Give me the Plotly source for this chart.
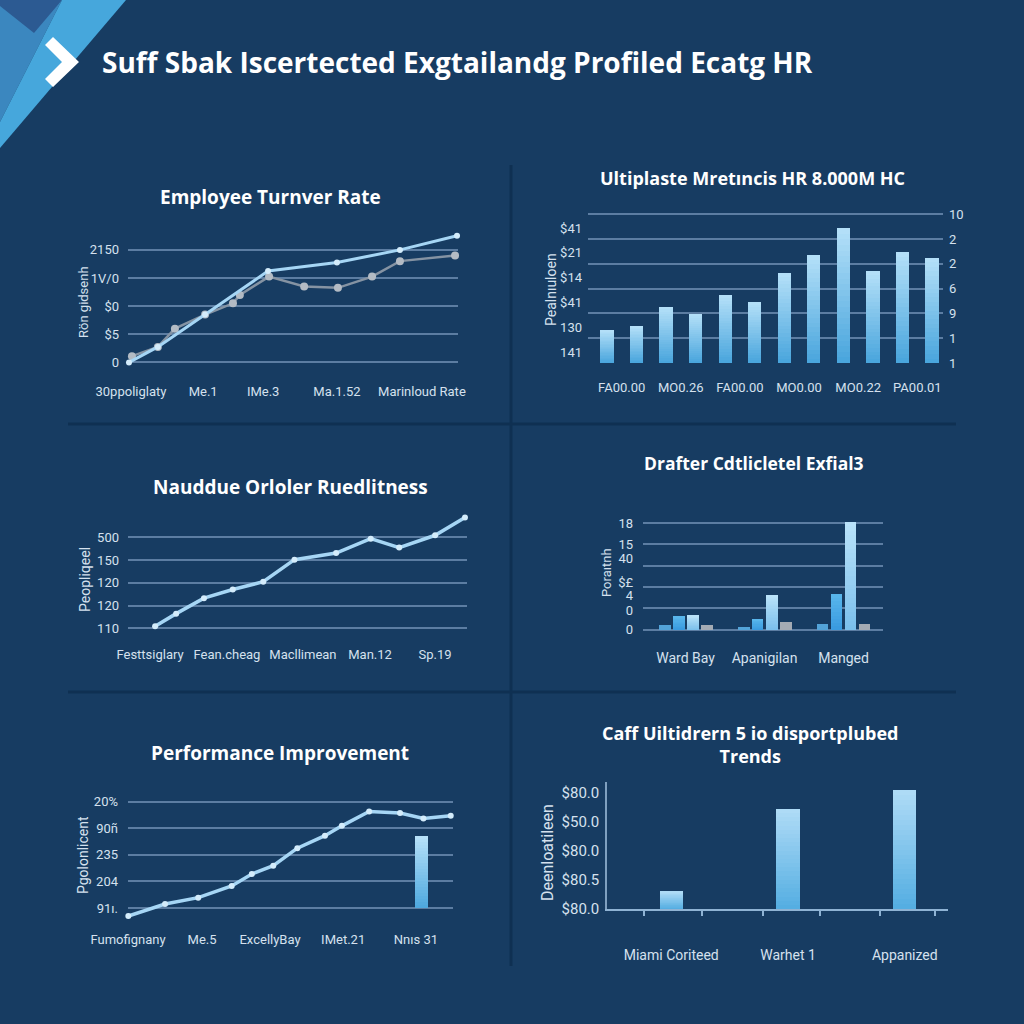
import plotly.graph_objects as go

# ---------------- data ----------------
MAIN_TITLE = "Suff Sbak Iscertected Exgtailandg Profiled Ecatg HR"

# Panel 1 - Employee Turnver Rate (two lines)
p1_title = "Employee Turnver Rate"
p1_ytitle = "Rön gidsenh"
p1_xtick_pos = [0.06, 2.26, 4.09, 6.34, 8.93]
p1_xtick_txt = ["30ppoliglaty", "Me.1", "IMe.3", "Ma.1.52", "Marinloud Rate"]
p1_ytick_txt = ["0", "$5", "$0", "1V/0", "2150"]
p1_blue_x = [0.0, 0.88, 2.32, 4.24, 6.34, 8.26, 10.0]
p1_blue_y = [0.0, 0.55, 1.7, 3.25, 3.55, 4.0, 4.5]
p1_gray_x = [0.09, 0.88, 1.4, 2.32, 3.17, 3.38, 4.27, 5.34, 6.37, 7.41, 8.26, 9.94]
p1_gray_y = [0.22, 0.55, 1.2, 1.7, 2.1, 2.4, 3.05, 2.7, 2.65, 3.05, 3.6, 3.8]

# Panel 2 - bars
p2_title = "Ultiplaste Mretıncis HR 8.000M HC"
p2_ytitle = "Pealnıuloen"
p2_values = [1.33, 1.49, 2.26, 1.98, 2.74, 2.46, 3.63, 4.35, 5.44, 3.71, 4.48, 4.23]
p2_xtick_txt = ["FA00.00", "MO0.26", "FA00.00", "MO0.00", "MO0.22", "PA00.01"]
p2_right_txt = ["1", "1", "9", "6", "2", "2", "10"]
p2_left_pos = [0.44, 1.45, 2.46, 3.47, 4.44, 5.44]
p2_left_txt = ["141", "130", "$41", "$14", "$21", "$41"]

# Panel 3 - line
p3_title = "Nauddue Orloler Ruedlitness"
p3_ytitle = "Peopliqeel"
p3_x = [0.8, 1.42, 2.24, 3.09, 3.99, 4.91, 6.14, 7.16, 8.0, 9.06, 9.94]
p3_y = [0.1, 0.65, 1.33, 1.71, 2.05, 3.02, 3.31, 3.94, 3.55, 4.09, 4.87]
p3_xtick_pos = [0.65, 2.92, 5.16, 7.14, 9.06]
p3_xtick_txt = ["Festtsiglary", "Fean.cheag", "Macllimean", "Man.12", "Sp.19"]
p3_ytick_txt = ["110", "120", "120", "150", "500"]

# Panel 4 - grouped bars
p4_title = "Drafter Cdtlicletel Exfial3"
p4_ytitle = "Poraıtnh"
p4_categories = ["Ward Bay", "Apanigilan", "Manged"]
p4_s1 = [0.23, 0.14, 0.28]
p4_s2 = [0.65, 0.51, 1.68]
p4_s3 = [0.65, 1.64, 5.05]
p4_s4 = [0.23, 0.37, 0.28]
p4_ytick_pos = [0.0, 0.89, 1.59, 2.24, 3.36, 4.0, 5.0]
p4_ytick_txt = ["0", "0", "4", "$£", "40", "15", "18"]

# Panel 5 - line + single bar
p5_title = "Performance Improvement"
p5_ytitle = "Pgolonlicent"
p5_x = [0.01, 1.14, 2.16, 3.19, 3.81, 4.47, 5.21, 6.06, 6.58, 7.42, 8.37, 9.09, 9.93]
p5_y = [-0.3, 0.15, 0.39, 0.83, 1.28, 1.59, 2.25, 2.72, 3.09, 3.63, 3.57, 3.37, 3.47]
p5_bar_x = [9.04]
p5_bar_y = [2.72]
p5_xtick_pos = [0.0, 2.28, 4.37, 6.62, 8.86]
p5_xtick_txt = ["Fumofignany", "Me.5", "ExcellyBay", "IMet.21", "Nnıs 31"]
p5_ytick_txt = ["91ı.", "204", "235", "90ñ", "20%"]

# Panel 6 - bars
p6_title = "Caff Uiltidrern 5 io disportplubed<br>Trends"
p6_ytitle = "Deenloatileen"
p6_categories = ["Miami Coriteed", "Warhet 1", "Appanized"]
p6_values = [0.59, 3.45, 4.10]
p6_minor_ticks = [-0.23, 0.26, 0.79, 1.27, 1.79, 2.26]
p6_ytick_txt = ["$80.0", "$80.5", "$80.0", "$50.0", "$80.0"]

# ---------------- style ----------------
BG = "#173c62"
GRID = "#5c7da2"
TICK = "#d5e1ee"
WHITE = "#ffffff"
LINE_C = "#a6d6f5"
MARK_C = "#d4ecfb"
TFONT = "Roboto"
HFONT = "Open Sans"


def xd(a, b):
    return [a / 1024, b / 1024]


def yd(top, bot):
    return [1 - bot / 1024, 1 - top / 1024]


def P(x, y):
    return f"{x / 1024:.5f},{1 - y / 1024:.5f}"


def hex2rgb(h):
    h = h.lstrip("#")
    return tuple(int(h[i:i + 2], 16) for i in (0, 2, 4))


def mix(c1, c2, t):
    a, b = hex2rgb(c1), hex2rgb(c2)
    return "rgb(%d,%d,%d)" % tuple(round(a[i] + (b[i] - a[i]) * t) for i in range(3))


fig = go.Figure()


def grad_bars(x, vals, width, c_bot, c_top, xa, ya, offset=None, n=24):
    # layered bars: each layer starts higher and is lighter -> vertical gradient
    for k in range(n):
        col = mix(c_bot, c_top, k / (n - 1))
        fig.add_trace(go.Bar(
            x=x, y=[v * (1 - k / n) for v in vals], base=[v * k / n for v in vals],
            width=width, offset=offset,
            marker=dict(color=col, line=dict(width=0)),
            xaxis=xa, yaxis=ya, hoverinfo="skip", showlegend=False))


def ghost(xa, ya):
    fig.add_trace(go.Scatter(x=[None], y=[None], xaxis=xa, yaxis=ya,
                             mode="markers", showlegend=False, hoverinfo="skip"))


# ---- Panel 1
fig.add_trace(go.Scatter(x=p1_gray_x, y=p1_gray_y, mode="lines+markers",
                         line=dict(color="#8593a3", width=2.5),
                         marker=dict(size=8, color="#b3bbc4"),
                         xaxis="x", yaxis="y", cliponaxis=False, showlegend=False))
fig.add_trace(go.Scatter(x=p1_blue_x, y=p1_blue_y, mode="lines+markers",
                         line=dict(color=LINE_C, width=3),
                         marker=dict(size=6, color=MARK_C),
                         xaxis="x", yaxis="y", cliponaxis=False, showlegend=False))

# ---- Panel 2
grad_bars(list(range(len(p2_values))), p2_values, 0.45, "#4aa6dd", "#b3dff8", "x2", "y2")
ghost("x2", "y7")

# ---- Panel 3
fig.add_trace(go.Scatter(x=p3_x, y=p3_y, mode="lines+markers",
                         line=dict(color=LINE_C, width=3.5),
                         marker=dict(size=6, color=MARK_C),
                         xaxis="x3", yaxis="y3", cliponaxis=False, showlegend=False))

# ---- Panel 4
g = [0, 1, 2]
w4 = 0.15
fig.add_trace(go.Bar(x=g, y=p4_s1, width=w4, offset=-0.266 - w4 / 2,
                     marker=dict(color="#53a3d8", line=dict(width=0)),
                     xaxis="x4", yaxis="y4", showlegend=False))
grad_bars(g, p4_s2, w4, "#3a9be0", "#58b6ec", "x4", "y4", offset=-0.089 - w4 / 2, n=10)
grad_bars(g, p4_s3, w4, "#7cc0ec", "#b9e2f9", "x4", "y4", offset=0.089 - w4 / 2)
fig.add_trace(go.Bar(x=g, y=p4_s4, width=w4, offset=0.266 - w4 / 2,
                     marker=dict(color="#a4abb4", line=dict(width=0)),
                     xaxis="x4", yaxis="y4", showlegend=False))
ghost("x4", "y8")

# ---- Panel 5
grad_bars(p5_bar_x, p5_bar_y, 0.4, "#4fa9df", "#b5e0f8", "x5", "y5")
fig.add_trace(go.Scatter(x=p5_x, y=p5_y, mode="lines+markers",
                         line=dict(color=LINE_C, width=3.5),
                         marker=dict(size=6, color=MARK_C),
                         xaxis="x5", yaxis="y5", cliponaxis=False, showlegend=False))

# ---- Panel 6
grad_bars([0, 1, 2], p6_values, 0.2, "#55aee2", "#aedbf6", "x6", "y6")
ghost("x9", "y6")

# ---------------- axes ----------------
tickfont = dict(family=TFONT, size=13, color=TICK)
base_y = dict(showgrid=True, gridcolor=GRID, gridwidth=1.5, zeroline=False,
              showline=False, ticks="", tickfont=tickfont, fixedrange=True,
              automargin=False)
base_x = dict(showgrid=False, zeroline=False, showline=False, ticks="",
              tickfont=tickfont, fixedrange=True, automargin=False)

layout_axes = dict(
    xaxis=dict(base_x, domain=xd(128, 458), range=[-0.03, 10.03], anchor="y",
               tickmode="array", tickvals=p1_xtick_pos, ticktext=p1_xtick_txt,
               ticklabelstandoff=14),
    yaxis=dict(base_y, domain=yd(233, 368), range=[-0.2, 4.6], anchor="x",
               tickmode="array", tickvals=[0, 1, 2, 3, 4], ticktext=p1_ytick_txt,
               ticklabelstandoff=8),
    xaxis2=dict(base_x, domain=xd(588, 943), range=[-0.64, 11.37], anchor="y2",
                tickmode="array", tickvals=[0.5, 2.5, 4.5, 6.5, 8.5, 10.5],
                ticktext=p2_xtick_txt, ticklabelstandoff=15),
    yaxis2=dict(base_y, domain=yd(213, 363), range=[0, 6.05], anchor="x2", side="right",
                tickmode="array", tickvals=list(range(7)), ticktext=p2_right_txt,
                ticklabelstandoff=5),
    yaxis7=dict(base_y, showgrid=False, overlaying="y2", anchor="x2", side="left",
                range=[0, 6.05], tickmode="array", tickvals=p2_left_pos,
                ticktext=p2_left_txt, ticklabelstandoff=5,
                tickfont=dict(family=TFONT, size=13, color=TICK)),
    xaxis3=dict(base_x, domain=xd(128, 467), range=[0, 10], anchor="y3",
                tickmode="array", tickvals=p3_xtick_pos, ticktext=p3_xtick_txt,
                ticklabelstandoff=12),
    yaxis3=dict(base_y, domain=yd(510, 633), range=[-0.2, 5.2], anchor="x3",
                tickmode="array", tickvals=[0, 1, 2, 3, 4], ticktext=p3_ytick_txt,
                ticklabelstandoff=8),
    xaxis4=dict(base_x, domain=xd(643, 883), range=[-0.54, 2.5], anchor="y4",
                tickmode="array", tickvals=[0, 1, 2], ticktext=p4_categories,
                ticklabelstandoff=16, tickfont=dict(family=TFONT, size=14, color=TICK)),
    yaxis4=dict(base_y, domain=yd(520, 632), range=[-0.1, 5.14], anchor="x4",
                tickmode="array", tickvals=[0, 1, 2, 3, 4, 5], showticklabels=False),
    yaxis8=dict(base_y, showgrid=False, overlaying="y4", anchor="x4", side="left",
                range=[-0.1, 5.14], tickmode="array", tickvals=p4_ytick_pos,
                ticktext=p4_ytick_txt, ticklabelstandoff=9),
    xaxis5=dict(base_x, domain=xd(128, 453), range=[0, 10], anchor="y5",
                tickmode="array", tickvals=p5_xtick_pos, ticktext=p5_xtick_txt,
                ticklabelstandoff=10),
    yaxis5=dict(base_y, domain=yd(799, 920), range=[-0.45, 4.1], anchor="x5",
                tickmode="array", tickvals=[0, 1, 2, 3, 4], ticktext=p5_ytick_txt,
                ticklabelstandoff=9),
    xaxis6=dict(base_x, domain=xd(607, 948), range=[-0.55, 2.37], anchor="y6",
                showline=True, linecolor="#8fb3d4", linewidth=2,
                ticks="outside", ticklen=5, tickwidth=1.5, tickcolor="#8fb3d4",
                tickmode="array", tickvals=p6_minor_ticks,
                ticktext=[""] * len(p6_minor_ticks)),
    xaxis9=dict(base_x, overlaying="x6", anchor="y6", side="bottom",
                range=[-0.55, 2.37], tickmode="array", tickvals=[0, 1, 2],
                ticktext=p6_categories, ticklabelstandoff=36,
                tickfont=dict(family=TFONT, size=14, color=TICK)),
    yaxis6=dict(base_y, showgrid=False, domain=yd(782, 909), range=[0, 4.38],
                anchor="x6", showline=True, linecolor="#7fa0c0", linewidth=1.5,
                tickmode="array", tickvals=[0, 1, 2, 3, 4], ticktext=p6_ytick_txt,
                ticklabelstandoff=3, tickfont=dict(family=TFONT, size=15, color=TICK)),
)

# ---------------- annotations ----------------
def ann(text, x, y, size, bold=True, angle=0, xanchor="center", family=HFONT, color=WHITE):
    return dict(text=text, x=x / 1024, y=1 - y / 1024, xref="paper", yref="paper",
                showarrow=False, xanchor=xanchor, yanchor="middle", textangle=angle,
                font=dict(family=family, size=size, color=color,
                          weight="bold" if bold else "normal"))


annotations = [
    ann(MAIN_TITLE, 100, 62, 28, xanchor="left"),
    ann(p1_title, 270, 197, 19),
    ann(p2_title, 752, 178, 18),
    ann(p3_title, 290, 487, 19),
    ann(p4_title, 754, 463, 17.5),
    ann(p5_title, 280, 753, 19),
    ann(p6_title, 750, 744, 18),
    ann(p1_ytitle, 83, 302, 13, bold=False, angle=-90, family=TFONT, color=TICK),
    ann(p2_ytitle, 551, 290, 14, bold=False, angle=-90, family=TFONT, color=TICK),
    ann(p3_ytitle, 85, 580, 14, bold=False, angle=-90, family=TFONT, color=TICK),
    ann(p4_ytitle, 606, 573, 13, bold=False, angle=-90, family=TFONT, color=TICK),
    ann(p5_ytitle, 83, 855, 14, bold=False, angle=-90, family=TFONT, color=TICK),
    ann(p6_ytitle, 547, 853, 16, bold=False, angle=-90, family=TFONT, color=TICK),
]

# ---------------- decorative shapes ----------------
shapes = [
    dict(type="path", xref="paper", yref="paper", line=dict(width=0), fillcolor="#3b87bf",
         path=f"M{P(0,0)} L{P(62,0)} L{P(0,122)} Z"),
    dict(type="path", xref="paper", yref="paper", line=dict(width=0), fillcolor="#2c5a92",
         path=f"M{P(0,0)} L{P(62,0)} L{P(34,33)} L{P(0,6)} Z"),
    dict(type="path", xref="paper", yref="paper", line=dict(width=0), fillcolor="#46a7dc",
         path=f"M{P(62,0)} L{P(126,0)} L{P(0,148)} L{P(0,122)} Z"),
    dict(type="path", xref="paper", yref="paper", line=dict(width=0), fillcolor="#ffffff",
         path=f"M{P(45,45)} L{P(53,37)} L{P(79,62)} L{P(53,87)} L{P(45,79)} L{P(62,62)} Z"),
    dict(type="line", xref="paper", yref="paper", x0=511 / 1024, x1=511 / 1024,
         y0=1 - 165 / 1024, y1=1 - 966 / 1024, line=dict(color="#0f3052", width=3)),
    dict(type="line", xref="paper", yref="paper", x0=68 / 1024, x1=956 / 1024,
         y0=1 - 424 / 1024, y1=1 - 424 / 1024, line=dict(color="#0f3052", width=3)),
    dict(type="line", xref="paper", yref="paper", x0=68 / 1024, x1=956 / 1024,
         y0=1 - 692 / 1024, y1=1 - 692 / 1024, line=dict(color="#0f3052", width=3)),
]

fig.update_layout(
    width=1024, height=1024, autosize=False, margin=dict(l=0, r=0, t=0, b=0, pad=0),
    paper_bgcolor=BG, plot_bgcolor="rgba(0,0,0,0)",
    showlegend=False, barmode="overlay", bargap=0,
    annotations=annotations, shapes=shapes,
    **layout_axes,
)

fig.write_html("out.html", config={"responsive": False, "displayModeBar": False})

# remove the default page margin so the figure sits at the window origin
with open("out.html", "r", encoding="utf-8") as f:
    html = f.read()
html = html.replace("<head>", "<head><style>html,body{margin:0;padding:0;overflow:hidden;background:%s}</style>" % BG, 1)
with open("out.html", "w", encoding="utf-8") as f:
    f.write(html)
